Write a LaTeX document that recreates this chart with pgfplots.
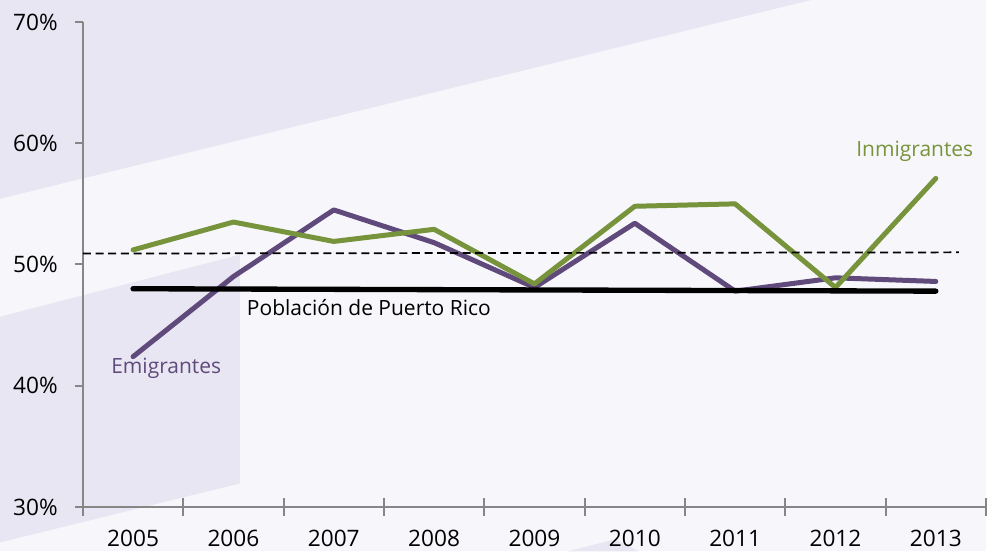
\documentclass[border=0pt]{standalone}
\usepackage{pgfplots}
\pgfplotsset{compat=1.18}
\usepackage{fontspec}
\setmainfont{Open Sans}
\definecolor{bgc}{RGB}{247,247,251}
\definecolor{band}{RGB}{232,230,242}
\definecolor{inmi}{RGB}{119,147,60}
\definecolor{emi}{RGB}{96,74,123}
\definecolor{axgray}{RGB}{134,134,134}
\newcommand{\lbl}{\fontsize{15.75}{18}\selectfont}
\newcommand{\tkl}{\fontsize{17}{19}\selectfont}

\begin{document}
\begin{tikzpicture}[font=\lbl]
% background, in pixels of the reference (origin at the axis corner)
\begin{scope}[x=0.75pt,y=-0.75pt,shift={(-83,-507.5)}]
  \fill[bgc] (0,0) rectangle (987,552);
  \fill[band] (0,0) -- (812,0) -- (0,199) -- cycle;
  \fill[band] (0,317) -- (240,255) -- (240,484) -- (0,543) -- cycle;
  \fill[band] (568,552) -- (615,540) -- (640,552) -- cycle;
  \path[use as bounding box] (0,0) rectangle (987,552);
\end{scope}

\begin{axis}[
    at={(0,0)}, anchor=south west,
    scale only axis,
    width=678pt, height=364.125pt,
    xmin=-0.5, xmax=8.5,
    ymin=30, ymax=70,
    axis x line=bottom, axis y line=left,
    axis line style={-, draw=axgray, line width=1.5pt},
    xtick={-0.5,0.5,...,8.5},
    x tick label as interval,
    xticklabels={2005,2006,2007,2008,2009,2010,2011,2012,2013},
    major tick length=13.5pt,
    xtick align=center,
    tick style={draw=axgray, line width=1.5pt},
    ytick=\empty,
    extra y ticks={30,40,50,60,70},
    extra y tick labels={30\%,40\%,50\%,60\%,70\%},
    extra y tick style={major tick length=6pt, ytick align=outside},
    tick label style={font=\tkl, text=black},
    yticklabel style={anchor=east, inner sep=0pt, xshift=-12.75pt},
    xticklabel style={anchor=north, inner sep=0pt, yshift=-10.6pt},
    clip=false,
]
\addplot[emi, line width=3.75pt, line cap=round, line join=round]
  coordinates {(0,42.4)(1,49.0)(2,54.5)(3,51.8)(4,48.1)(5,53.4)(6,47.8)(7,48.9)(8,48.6)};
\addplot[inmi, line width=3.75pt, line cap=round, line join=round]
  coordinates {(0,51.2)(1,53.5)(2,51.9)(3,52.9)(4,48.4)(5,54.8)(6,55.0)(7,48.1)(8,57.1)};
\addplot[black, line width=4pt, line cap=round]
  coordinates {(0,48.0)(8,47.8)};
\addplot[black, line width=1.3pt, dash pattern=on 6pt off 3.5pt]
  coordinates {(-0.5,50.9)(8.23,51.0)};

\node[emi] at (axis cs:0.33,41.4) {Emigrantes};
\node[inmi] at (axis cs:7.79,59.3) {Inmigrantes};
\node[black] at (axis cs:2.35,46.43) {Población de Puerto Rico};
\end{axis}
\end{tikzpicture}
\end{document}
